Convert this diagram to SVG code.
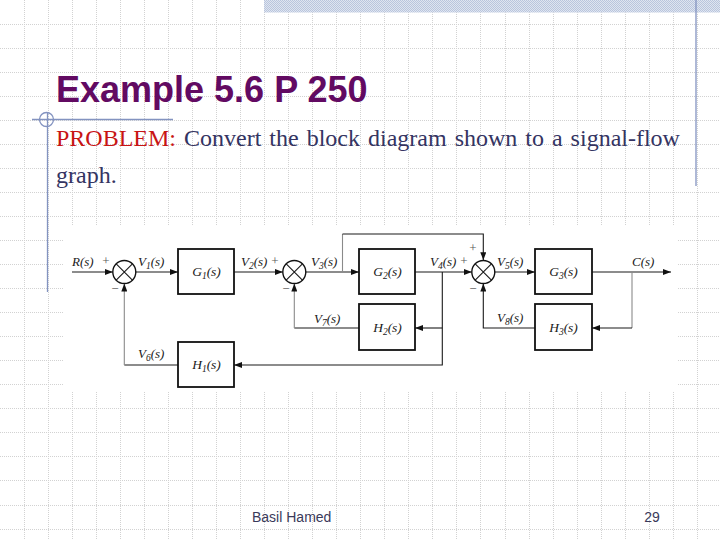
<svg xmlns="http://www.w3.org/2000/svg" width="720" height="540" viewBox="0 0 720 540">
<defs>
<style>
.grid{fill:none;stroke:#d2d2d2;stroke-width:1;stroke-dasharray:1 1}
.deco{fill:none;stroke:#8393c0;stroke-width:1.3}
.box{fill:#fff;stroke:#111;stroke-width:1.8}
.ln{fill:none;stroke:#1a1a1a;stroke-width:1.1}
.lg{fill:none;stroke:#8a8a8a;stroke-width:1.1}
.sum{fill:#fff;stroke:#111;stroke-width:1.4}
.lbl{font-family:"Liberation Serif","Times New Roman",serif;font-style:italic;font-size:13px;fill:#1a1a1a}
.blbl{font-family:"Liberation Serif","Times New Roman",serif;font-style:italic;font-size:13.5px;fill:#1a1a1a;text-anchor:middle}
.sg{font-family:"Liberation Serif","Times New Roman",serif;font-size:13px;fill:#555;text-anchor:middle}
.sub{font-size:9.5px}
.foot{font-family:"Liberation Sans",Arial,sans-serif;font-size:14px;fill:#3a3a5a}
</style>
<pattern id="band" width="2" height="2" patternUnits="userSpaceOnUse">
<rect width="2" height="2" fill="#dfe5f0"/>
<rect width="1" height="1" fill="#b9c5dd"/>
<rect x="1" y="1" width="1" height="1" fill="#b9c5dd"/>
</pattern>
<marker id="ah" viewBox="0 0 8 6" refX="8" refY="3" markerWidth="8" markerHeight="6" markerUnits="userSpaceOnUse" orient="auto">
<path d="M0,0 L8,3 L0,6 z" fill="#111"/>
</marker>
</defs>

<rect width="720" height="540" fill="#fff"/>
<g id="background">
<path class="grid" d="M24.5 0V540M48.5 0V540M72.5 0V540M96.5 0V540M120.5 0V540M144.5 0V540M168.5 0V540M192.5 0V540M216.5 0V540M240.5 0V540M264.5 0V540M288.5 0V540M312.5 0V540M336.5 0V540M360.5 0V540M384.5 0V540M408.5 0V540M432.5 0V540M456.5 0V540M480.5 0V540M505.5 0V540M529.5 0V540M553.5 0V540M577.5 0V540M601.5 0V540M625.5 0V540M649.5 0V540M673.5 0V540M697.5 0V540"/>
<path class="grid" d="M0 24.5H720M0 48.5H720M0 72.5H720M0 96.5H720M0 120.5H720M0 144.5H720M0 168.5H720M0 192.5H720M0 216.5H720M0 240.5H720M0 264.5H720M0 288.5H720M0 312.5H720M0 336.5H720M0 360.5H720M0 384.5H720M0 408.5H720M0 432.5H720M0 456.5H720M0 480.5H720M0 505.5H720M0 529.5H720"/>
<rect x="264" y="0" width="456" height="12.5" fill="url(#band)"/>
<line class="deco" x1="696" y1="0" x2="696" y2="186"/>
<line class="deco" x1="32" y1="119.5" x2="173" y2="119.5"/>
<line class="deco" x1="47.5" y1="112" x2="47.5" y2="292"/>
<circle class="deco" cx="46.5" cy="119.5" r="7"/>
</g>

<g id="title">
<text x="56" y="102" font-family="Liberation Sans,Arial,sans-serif" font-weight="bold" font-size="36" fill="#620a62">Example 5.6 P 250</text>
<text x="56" y="146" font-family="Liberation Serif,'Times New Roman',serif" font-size="24" fill="#343462" word-spacing="2"><tspan fill="#c81414">PROBLEM:</tspan> Convert the block diagram shown to a signal-flow</text>
<text x="56" y="183" font-family="Liberation Serif,'Times New Roman',serif" font-size="24" fill="#343462">graph.</text>
</g>

<rect x="63" y="225" width="614" height="166" fill="#fff"/>

<g id="connectors">
<path class="ln" d="M72 272H112.8" marker-end="url(#ah)"/>
<path class="ln" d="M135.8 272H178" marker-end="url(#ah)"/>
<path class="ln" d="M234 272H282.8" marker-end="url(#ah)"/>
<path class="ln" d="M305.8 272H359" marker-end="url(#ah)"/>
<path class="lg" d="M342.5 272V234"/>
<path class="ln" d="M342.5 234H483.3V260.2" marker-end="url(#ah)"/>
<path class="ln" d="M415 272H471.8" marker-end="url(#ah)"/>
<path class="ln" d="M494.8 272H535" marker-end="url(#ah)"/>
<path class="ln" d="M592 272H671" marker-end="url(#ah)"/>
<path class="lg" d="M632 272V328"/>
<path class="ln" d="M632 328H592" marker-end="url(#ah)"/>
<path class="ln" d="M535 328H483.3V283.5" marker-end="url(#ah)"/>
<path class="ln" d="M442.3 272V365H234" marker-end="url(#ah)"/>
<path class="ln" d="M442.3 328H415" marker-end="url(#ah)"/>
<path class="ln" d="M359 328H294.3"/>
<path class="lg" d="M294.3 328V283.5" marker-end="url(#ah)"/>
<path class="ln" d="M178 365H124.3"/>
<path class="lg" d="M124.3 365V283.5" marker-end="url(#ah)"/>
</g>

<g id="sum1">
<circle class="sum" cx="124.3" cy="272" r="11.5"/>
<path class="ln" d="M116.2 263.9L132.4 280.1M132.4 263.9L116.2 280.1"/>
<text class="sg" x="106" y="265">+</text>
<text class="sg" x="115" y="293">−</text>
</g>
<g id="sum2">
<circle class="sum" cx="294.3" cy="272" r="11.5"/>
<path class="ln" d="M286.2 263.9L302.4 280.1M302.4 263.9L286.2 280.1"/>
<text class="sg" x="275" y="265">+</text>
<text class="sg" x="286" y="293">−</text>
</g>
<g id="sum3">
<circle class="sum" cx="483.3" cy="272" r="11.5"/>
<path class="ln" d="M475.2 263.9L491.4 280.1M491.4 263.9L475.2 280.1"/>
<text class="sg" x="464" y="265">+</text>
<text class="sg" x="473" y="252">+</text>
<text class="sg" x="473" y="293">−</text>
</g>

<g id="G1"><rect class="box" x="178" y="249" width="56" height="45"/><text class="blbl" x="206.5" y="276">G<tspan class="sub" dy="3">1</tspan><tspan dy="-3">(s)</tspan></text></g>
<g id="G2"><rect class="box" x="359" y="249" width="56" height="45"/><text class="blbl" x="387.5" y="276">G<tspan class="sub" dy="3">2</tspan><tspan dy="-3">(s)</tspan></text></g>
<g id="G3"><rect class="box" x="535" y="249" width="57" height="45"/><text class="blbl" x="563.5" y="276">G<tspan class="sub" dy="3">3</tspan><tspan dy="-3">(s)</tspan></text></g>
<g id="H2"><rect class="box" x="359" y="304" width="56" height="46"/><text class="blbl" x="387.5" y="332">H<tspan class="sub" dy="3">2</tspan><tspan dy="-3">(s)</tspan></text></g>
<g id="H3"><rect class="box" x="535" y="304" width="57" height="46"/><text class="blbl" x="563.5" y="332">H<tspan class="sub" dy="3">3</tspan><tspan dy="-3">(s)</tspan></text></g>
<g id="H1"><rect class="box" x="178" y="342" width="56" height="45"/><text class="blbl" x="206.5" y="369">H<tspan class="sub" dy="3">1</tspan><tspan dy="-3">(s)</tspan></text></g>

<g id="signal-labels">
<text class="lbl" x="72" y="266">R(s)</text>
<text class="lbl" x="138" y="266">V<tspan class="sub" dy="3">1</tspan><tspan dy="-3">(s)</tspan></text>
<text class="lbl" x="241" y="266">V<tspan class="sub" dy="3">2</tspan><tspan dy="-3">(s)</tspan></text>
<text class="lbl" x="311" y="266">V<tspan class="sub" dy="3">3</tspan><tspan dy="-3">(s)</tspan></text>
<text class="lbl" x="430" y="266">V<tspan class="sub" dy="3">4</tspan><tspan dy="-3">(s)</tspan></text>
<text class="lbl" x="497" y="266">V<tspan class="sub" dy="3">5</tspan><tspan dy="-3">(s)</tspan></text>
<text class="lbl" x="632" y="266">C(s)</text>
<text class="lbl" x="314" y="323">V<tspan class="sub" dy="3">7</tspan><tspan dy="-3">(s)</tspan></text>
<text class="lbl" x="497" y="322">V<tspan class="sub" dy="3">8</tspan><tspan dy="-3">(s)</tspan></text>
<text class="lbl" x="138" y="358">V<tspan class="sub" dy="3">6</tspan><tspan dy="-3">(s)</tspan></text>
</g>

<g id="footer">
<text class="foot" x="252" y="522">Basil Hamed</text>
<text class="foot" x="652" y="522" text-anchor="middle">29</text>
</g>
</svg>
